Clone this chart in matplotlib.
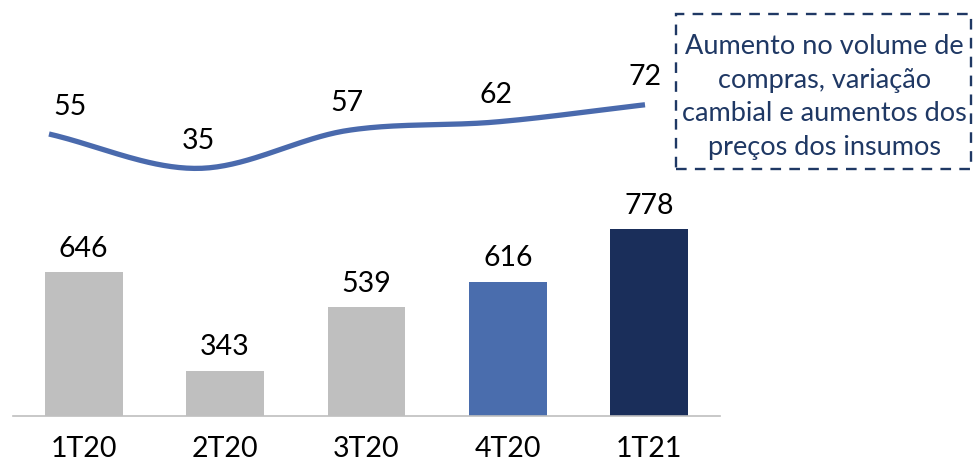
import numpy as np
import matplotlib
matplotlib.use("Agg")
import matplotlib.pyplot as plt
from matplotlib.patches import FancyBboxPatch

plt.rcParams['font.family'] = ['Lato', 'DejaVu Sans']

# Data
quarters = ["1T20", "2T20", "3T20", "4T20", "1T21"]
bar_values = [646, 343, 539, 616, 778]
line_values = [55, 35, 57, 62, 72]
bar_colors = ["#BFBFBF", "#BFBFBF", "#BFBFBF", "#4A6DAD", "#1A2E5A"]
note_text = "Aumento no volume de\ncompras, variação\ncambial e aumentos dos\npreços dos insumos"

W, H = 974, 464
fig = plt.figure(figsize=(W / 100, H / 100), dpi=100)

# Axes rectangle in pixel terms
left_px, right_px, base_px = 13, 720, 416.5
rect = [left_px / W, (H - base_px) / H, (right_px - left_px) / W, base_px / H]

# Bars
ax = fig.add_axes(rect)
x = np.arange(len(quarters))
ax.bar(x, bar_values, width=0.55, color=bar_colors, zorder=2)
ax.set_xlim(-0.5, 4.5)
ax.set_ylim(205, 205 + base_px / 0.326)
for xi, v in zip(x, bar_values):
    ax.annotate(f"{v}", (xi, v), xytext=(0, 8), textcoords="offset points",
                ha="center", va="bottom", fontsize=20.5, color="#000000")
ax.set_xticks(x)
ax.set_xticklabels(quarters, fontsize=20.5)
ax.tick_params(axis="x", length=0, pad=14)
ax.set_yticks([])
for s in ["left", "right", "top"]:
    ax.spines[s].set_visible(False)
ax.spines["bottom"].set_color("#BFBFBF")
ax.spines["bottom"].set_linewidth(1.2)
ax.patch.set_alpha(0)

# Smoothed line on an overlay axes
ax2 = fig.add_axes(rect)
ax2.patch.set_alpha(0)
ax2.axis("off")
lx = np.arange(len(line_values), dtype=float)
ly = np.array(line_values, dtype=float)
ax2.set_xlim(-36 / 149, (right_px - left_px - 36) / 149)
k = 1.72
ax2.set_ylim(55 - (base_px - 135) / k, 55 + 135 / k)

# Catmull-Rom style smoothing through the data points
pts = np.column_stack([lx, ly])
ext = np.vstack([pts[0] - (pts[1] - pts[0]), pts, pts[-1] + (pts[-1] - pts[-2])])
curve = []
t = np.linspace(0, 1, 40)[:, None]
for i in range(1, len(ext) - 2):
    p0, p1, p2, p3 = ext[i - 1], ext[i], ext[i + 1], ext[i + 2]
    c1 = p1 + (p2 - p0) / 6
    c2 = p2 - (p3 - p1) / 6
    seg = ((1 - t) ** 3) * p1 + 3 * ((1 - t) ** 2) * t * c1 + 3 * (1 - t) * t ** 2 * c2 + t ** 3 * p2
    curve.append(seg if i == 1 else seg[1:])
curve = np.vstack(curve)
ax2.plot(curve[:, 0], curve[:, 1], color="#4A6AAD", lw=3.8, solid_capstyle="butt")

label_dx = [21, 0, 0, 0, 0]
for xi, v, dx in zip(lx, line_values, label_dx):
    ax2.annotate(f"{v}", (xi, v), xytext=(dx * 0.72, 11), textcoords="offset points",
                 ha="center", va="bottom", fontsize=20.5, color="#000000")

# Dashed note box
bx0, by0, bx1, by1 = 676, 15, 971, 170
box = FancyBboxPatch((bx0 / W, 1 - by1 / H), (bx1 - bx0) / W, (by1 - by0) / H,
                     boxstyle="square,pad=0", transform=fig.transFigure,
                     fill=False, edgecolor="#1F3864", lw=1.7,
                     linestyle=(0, (4.5, 3.5)))
fig.add_artist(box)
fig.text((bx0 + bx1) / 2 / W + 0.001, 1 - 97 / H, note_text,
         ha="center", va="center", fontsize=19.5, color="#1F3864",
         linespacing=1.42)

fig.savefig("out.png", dpi=100)
